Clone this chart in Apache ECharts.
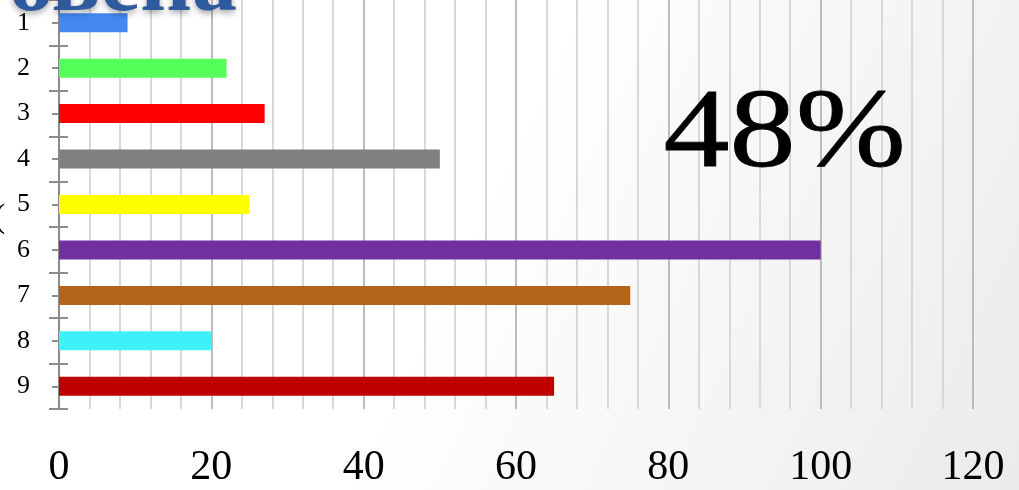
<!DOCTYPE html>
<html><head><meta charset="utf-8">
<script src="https://cdn.jsdelivr.net/npm/echarts@6/dist/echarts.min.js"></script>
<style>html,body{margin:0;padding:0;background:#fff}#c{width:1019px;height:490px}</style>
</head><body><div id="c"></div>
<script>
const categories = ['1','2','3','4','5','6','7','8','9'];
const values = [9, 22, 27, 50, 25, 100, 75, 20, 65];
const barColors = ['#4488F0','#55FF5A','#FF0000','#808080','#FFFF00','#7030A0','#B46418','#3EF0F8','#C00000'];
const xTicks = [0, 20, 40, 60, 80, 100, 120];
const bigText = '48%';
const titleText = 'овена';

const chart = echarts.init(document.getElementById('c'));
const grid = {left: 59, right: 46, top: -1, height: 410};
const tickLine = {color: '#8c8c8c', width: 2};
function extraY(len, inside, align) {
  return {type: 'category', data: categories, inverse: true, position: 'left', gridIndex: 0,
    axisLine: {show: false}, axisLabel: {show: false}, splitLine: {show: false},
    axisTick: {show: true, inside: inside, length: len, alignWithLabel: align, interval: 0, lineStyle: tickLine}};
}
chart.setOption({
  backgroundColor: {type: 'linear', x: 0, y: 0, x2: 1, y2: 1,
    colorStops: [{offset: 0, color: '#ffffff'}, {offset: 0.45, color: '#ffffff'}, {offset: 1, color: '#ebebeb'}]},
  animation: false,
  grid: grid,
  xAxis: {type: 'value', min: xTicks[0], max: xTicks[xTicks.length - 1], interval: 20,
    axisLine: {show: false}, axisTick: {show: false},
    axisLabel: {fontFamily: 'Liberation Serif', fontSize: 42, color: '#000', margin: 38},
    splitLine: {show: true, lineStyle: {color: '#bcbcbc', width: 2}},
    minorTick: {show: false, splitNumber: 5},
    minorSplitLine: {show: true, lineStyle: {color: '#d8d8d8', width: 2}}},
  yAxis: [
    {type: 'category', data: categories, inverse: true, position: 'left',
      axisLine: {show: true, lineStyle: tickLine},
      axisTick: {show: true, length: 10, interval: 0, lineStyle: tickLine},
      axisLabel: {fontFamily: 'Liberation Serif', fontSize: 26, color: '#000', margin: 29, interval: 0},
      splitLine: {show: false}},
    extraY(9, true, false),
    extraY(7, false, true),
    extraY(7, true, true)
  ],
  series: [{type: 'bar', yAxisIndex: 0, barWidth: 19, data: values.map((v, i) => ({value: v, itemStyle: {color: barColors[i]}}))}],
  graphic: [
    {type: 'text', left: 663, top: 80, z: 10,
      style: {text: bigText, fontFamily: 'Liberation Serif', fontSize: 112, fill: '#000', stroke: '#000', lineWidth: 0.8}, scaleX: 1.18},
    {type: 'text', z: 10, x: 237, y: 32,
      style: {text: titleText, fontFamily: 'Liberation Serif', fontWeight: 'bold', fontSize: 90, fill: '#2F5B9E',
        align: 'right', verticalAlign: 'bottom', textShadowColor: 'rgba(0,0,0,0.35)', textShadowBlur: 6, textShadowOffsetY: 3}},
    {type: 'text', z: 10, x: -6, y: 218,
      style: {text: '(', fontFamily: 'Liberation Serif', fontSize: 34, fill: '#000', verticalAlign: 'middle'}}
  ]
});
</script></body></html>
